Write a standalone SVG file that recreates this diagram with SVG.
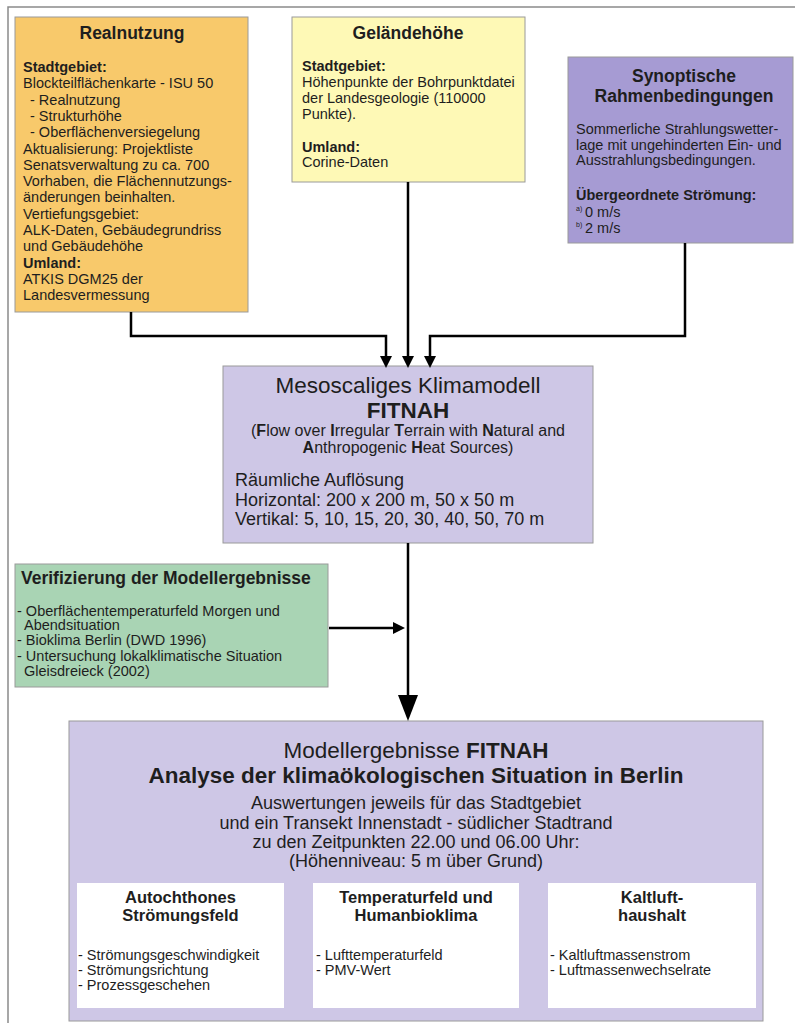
<svg xmlns="http://www.w3.org/2000/svg" width="795" height="1023" viewBox="0 0 795 1023">
<style>
text{font-family:"Liberation Sans",Arial,sans-serif;fill:#1e1e1e}
.t{font-size:17.5px;font-weight:bold;text-anchor:middle}
.b{font-size:14.5px}
.bb{font-size:14.5px;font-weight:bold}
.m{font-size:18px}
.c{text-anchor:middle}
.box{stroke:#9a9a9a;stroke-width:1}
.con{fill:none;stroke:#000;stroke-width:2.5}
</style>
<defs>
<marker id="ah" markerUnits="userSpaceOnUse" markerWidth="12" markerHeight="12" refX="5" refY="6" orient="auto"><path d="M0,0 L12,6 L0,12 z" fill="#000"/></marker>
<marker id="ahb" markerUnits="userSpaceOnUse" markerWidth="26" markerHeight="20" refX="4" refY="10" orient="auto"><path d="M0,0 L26,10 L0,20 z" fill="#000"/></marker>
</defs>
<rect width="795" height="1023" fill="#fff"/>
<path d="M8,1023 V7 H795" fill="none" stroke="#8a8a8a" stroke-width="1.5"/>

<g id="realnutzung">
<rect class="box" x="15" y="17" width="233" height="295" fill="#F8C96B"/>
<text class="t" x="132" y="39">Realnutzung</text>
<text class="bb" x="23" y="72">Stadtgebiet:</text>
<text class="b" x="23" y="88.3">Blockteilflächenkarte - ISU 50</text>
<text class="b" x="30" y="104.6">- Realnutzung</text>
<text class="b" x="30" y="120.9">- Strukturhöhe</text>
<text class="b" x="30" y="137.2">- Oberflächenversiegelung</text>
<text class="b" x="23" y="153.5">Aktualisierung: Projektliste</text>
<text class="b" x="23" y="169.8">Senatsverwaltung zu ca. 700</text>
<text class="b" x="23" y="186.1">Vorhaben, die Flächennutzungs-</text>
<text class="b" x="23" y="202.4">änderungen beinhalten.</text>
<text class="b" x="23" y="218.7">Vertiefungsgebiet:</text>
<text class="b" x="23" y="235">ALK-Daten, Gebäudegrundriss</text>
<text class="b" x="23" y="251.3">und Gebäudehöhe</text>
<text class="bb" x="23" y="267.6">Umland:</text>
<text class="b" x="23" y="283.9">ATKIS DGM25 der</text>
<text class="b" x="23" y="300.2">Landesvermessung</text>
</g>

<g id="gelaendehoehe">
<rect class="box" x="292" y="17" width="233" height="165" fill="#FEF9B6"/>
<text class="t" x="408" y="39">Geländehöhe</text>
<text class="bb" x="302" y="71">Stadtgebiet:</text>
<text class="b" x="302" y="87">Höhenpunkte der Bohrpunktdatei</text>
<text class="b" x="302" y="103">der Landesgeologie (110000</text>
<text class="b" x="302" y="119">Punkte).</text>
<text class="bb" x="302" y="152">Umland:</text>
<text class="b" x="302" y="167">Corine-Daten</text>
</g>

<g id="synoptisch">
<rect class="box" x="568" y="57" width="225" height="186" fill="#A69BD3"/>
<text class="t" x="684" y="82">Synoptische</text>
<text class="t" x="684" y="102">Rahmenbedingungen</text>
<text class="b" x="576" y="134">Sommerliche Strahlungswetter-</text>
<text class="b" x="576" y="150">lage mit ungehinderten Ein- und</text>
<text class="b" x="576" y="165">Ausstrahlungsbedingungen.</text>
<text class="bb" x="576" y="200">Übergeordnete Strömung:</text>
<text x="576" y="211" font-size="7">a)</text>
<text class="b" x="585" y="217">0 m/s</text>
<text x="576" y="227" font-size="7">b)</text>
<text class="b" x="585" y="233">2 m/s</text>
</g>

<g id="fitnah">
<rect class="box" x="223" y="366" width="370" height="177" fill="#CEC7E6"/>
<text class="c" x="408" y="393" font-size="22.5px">Mesoscaliges Klimamodell</text>
<text class="c" x="408" y="418" font-size="22.5px" font-weight="bold">FITNAH</text>
<text class="c" x="408" y="436" font-size="16px">(<tspan font-weight="bold">F</tspan>low over <tspan font-weight="bold">I</tspan>rregular <tspan font-weight="bold">T</tspan>errain with <tspan font-weight="bold">N</tspan>atural and</text>
<text class="c" x="408" y="453" font-size="16px"><tspan font-weight="bold">A</tspan>nthropogenic <tspan font-weight="bold">H</tspan>eat Sources)</text>
<text class="m" x="235" y="486">Räumliche Auflösung</text>
<text class="m" x="235" y="506">Horizontal: 200 x 200 m, 50 x 50 m</text>
<text class="m" x="235" y="525">Vertikal: 5, 10, 15, 20, 30, 40, 50, 70 m</text>
</g>

<g id="verifizierung">
<rect class="box" x="15" y="564" width="313" height="123" fill="#A9D4B4"/>
<text x="21" y="584" font-size="17.5px" font-weight="bold">Verifizierung der Modellergebnisse</text>
<text class="b" x="17" y="616">- Oberflächentemperaturfeld Morgen und</text>
<text class="b" x="24" y="630">Abendsituation</text>
<text class="b" x="17" y="645">- Bioklima Berlin (DWD 1996)</text>
<text class="b" x="17" y="661">- Untersuchung lokalklimatische Situation</text>
<text class="b" x="24" y="676">Gleisdreieck (2002)</text>
</g>

<g id="ergebnisse">
<rect class="box" x="69" y="721" width="694" height="300" fill="#CEC7E6"/>
<text class="c" x="416" y="758" font-size="22.5px">Modellergebnisse <tspan font-weight="bold">FITNAH</tspan></text>
<text class="c" x="416" y="783" font-size="22.5px" font-weight="bold">Analyse der klimaökologischen Situation in Berlin</text>
<text class="c m" x="416" y="809">Auswertungen jeweils für das Stadtgebiet</text>
<text class="c m" x="416" y="829">und ein Transekt Innenstadt - südlicher Stadtrand</text>
<text class="c m" x="416" y="848">zu den Zeitpunkten 22.00 und 06.00 Uhr:</text>
<text class="c m" x="416" y="867">(Höhenniveau: 5 m über Grund)</text>
</g>

<g id="stroemungsfeld">
<rect x="77" y="883" width="207" height="125" fill="#fff"/>
<text class="c" x="180.5" y="903" font-size="16.5px" font-weight="bold">Autochthones</text>
<text class="c" x="180.5" y="921" font-size="16.5px" font-weight="bold">Strömungsfeld</text>
<text class="b" x="78" y="960">- Strömungsgeschwindigkeit</text>
<text class="b" x="78" y="975">- Strömungsrichtung</text>
<text class="b" x="78" y="990">- Prozessgeschehen</text>
</g>

<g id="temperaturfeld">
<rect x="313" y="883" width="206" height="125" fill="#fff"/>
<text class="c" x="416" y="903" font-size="16.5px" font-weight="bold">Temperaturfeld und</text>
<text class="c" x="416" y="921" font-size="16.5px" font-weight="bold">Humanbioklima</text>
<text class="b" x="316" y="960">- Lufttemperaturfeld</text>
<text class="b" x="316" y="975">- PMV-Wert</text>
</g>

<g id="kaltluft">
<rect x="548" y="883" width="208" height="125" fill="#fff"/>
<text class="c" x="652" y="903" font-size="16.5px" font-weight="bold">Kaltluft-</text>
<text class="c" x="652" y="921" font-size="16.5px" font-weight="bold">haushalt</text>
<text class="b" x="550" y="960">- Kaltluftmassenstrom</text>
<text class="b" x="550" y="975">- Luftmassenwechselrate</text>
</g>

<g id="connectors">
<path class="con" d="M131,312 V336 H386 V361" marker-end="url(#ah)"/>
<path class="con" d="M408,182 V361" marker-end="url(#ah)"/>
<path class="con" d="M685,243 V336 H430 V361" marker-end="url(#ah)"/>
<path class="con" d="M329,628 H398" marker-end="url(#ah)"/>
<path class="con" stroke-width="3.5" d="M408,543 V699" marker-end="url(#ahb)"/>
</g>
</svg>
